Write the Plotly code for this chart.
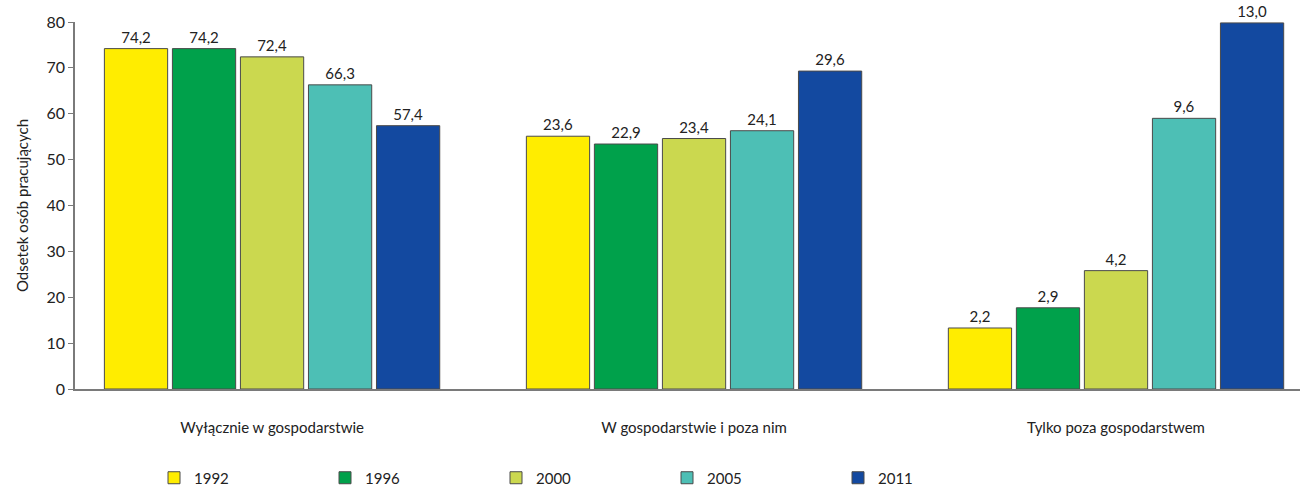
import plotly.graph_objects as go

categories = ["Wyłącznie w gospodarstwie", "W gospodarstwie i poza nim", "Tylko poza gospodarstwem"]
years = ["1992", "1996", "2000", "2005", "2011"]
colors = ["#FFED00", "#00A14B", "#CBD84F", "#4DBFB5", "#1349A0"]

# bar heights as drawn in the picture (per year, across categories)
heights = {
    "1992": [74.2, 55.1, 13.3],
    "1996": [74.2, 53.4, 17.7],
    "2000": [72.4, 54.6, 25.8],
    "2005": [66.3, 56.3, 59.0],
    "2011": [57.4, 69.3, 79.8],
}
# value labels printed on top of the bars
labels = {
    "1992": [74.2, 23.6, 2.2],
    "1996": [74.2, 22.9, 2.9],
    "2000": [72.4, 23.4, 4.2],
    "2005": [66.3, 24.1, 9.6],
    "2011": [57.4, 29.6, 13.0],
}
y_ticks = [0, 10, 20, 30, 40, 50, 60, 70, 80]

FONT = "Lato"

fig = go.Figure()
for yr, col in zip(years, colors):
    fig.add_trace(go.Bar(
        x=categories,
        y=heights[yr],
        name=yr,
        marker=dict(color=col, line=dict(color="#4a4a4a", width=1)),
        text=[f"{v:.1f}".replace(".", ",") for v in labels[yr]],
        textposition="outside",
        textfont=dict(family=FONT, size=15, color="#222222"),
        cliponaxis=False,
    ))

fig.update_layout(
    width=1308, height=489,
    margin=dict(l=75, r=8, t=22, b=100, autoexpand=False),
    paper_bgcolor="white", plot_bgcolor="white",
    barmode="group", bargap=0.194, bargroupgap=0.07,
    font=dict(family=FONT, size=15, color="#222222"),
    showlegend=True,
    legend=dict(
        orientation="h", x=0.0645, xanchor="left",
        yref="container", y=0.0225, yanchor="middle",
        entrywidth=126, entrywidthmode="pixels",
        font=dict(family=FONT, size=15, color="#222222"),
        itemwidth=30, tracegroupgap=0,
    ),
)
fig.update_xaxes(
    range=[-0.467, 2.436], showline=True, linecolor="#7a7a7a", linewidth=1.5,
    showgrid=False, ticks="", ticklabelstandoff=24, automargin=False,
    tickfont=dict(family=FONT, size=15, color="#222222"),
)
fig.update_yaxes(
    range=[0, 80], tickvals=y_ticks, showline=True, linecolor="#7a7a7a", linewidth=1.5,
    showgrid=False, ticks="outside", ticklen=5, tickcolor="#7a7a7a", automargin=False,
    tickfont=dict(family=FONT, size=16, color="#222222"),
    title=dict(text="Odsetek osób pracujących", font=dict(family=FONT, size=15, color="#222222"), standoff=14),
    zeroline=False,
)

fig.write_html("out.html")
